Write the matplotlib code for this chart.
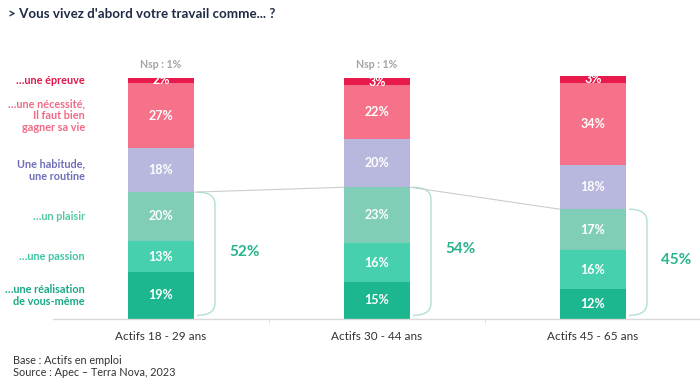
import matplotlib
matplotlib.use("Agg")
import matplotlib.pyplot as plt
from matplotlib.path import Path
from matplotlib.patches import PathPatch

plt.rcParams['font.family'] = ['Lato', 'DejaVu Sans']

groups = ["Actifs 18 - 29 ans", "Actifs 30 - 44 ans", "Actifs 45 - 65 ans"]
categories = ["…une réalisation\nde vous-même", "…une passion", "…un plaisir",
              "Une habitude,\nune routine", "…une nécessité,\nIl faut bien\ngagner sa vie",
              "…une épreuve"]
realisation = [19, 15, 12]
passion = [13, 16, 16]
plaisir = [20, 23, 17]
habitude = [18, 20, 18]
necessite = [27, 22, 34]
epreuve = [2, 3, 3]
positive_total = [52, 54, 45]
nsp_labels = ["Nsp : 1%", "Nsp : 1%", None]

series = [realisation, passion, plaisir, habitude, necessite, epreuve]
bar_colors = ["#1db78f", "#47d0ae", "#80ceb7", "#b8b7de", "#f5728a", "#e8194b"]
label_colors = ["#17a985", "#3ec6a3", "#52c8a6", "#6e6fb7", "#f06b86", "#e0184a"]

fig = plt.figure(figsize=(7, 3.85), dpi=100)
ax = fig.add_axes([53/700, 1-318.5/385, 648/700, 243/385])
ax.set_xlim(-0.5, 2.5)
ax.set_ylim(0, 100)

x = list(range(len(groups)))
w = 0.31
bottoms = [0, 0, 0]
for vals, col in zip(series, bar_colors):
    ax.bar(x, vals, width=w, bottom=bottoms, color=col, edgecolor='none', zorder=2)
    for i, v in enumerate(vals):
        ax.text(x[i], bottoms[i] + v/2, f"{v}%", ha='center', va='center',
                color='white', fontsize=9, fontweight='bold', zorder=3)
    bottoms = [b + v for b, v in zip(bottoms, vals)]

# left category labels aligned to first bar's segments
b = 0
for vals, lab, col in zip(series, categories, label_colors):
    ax.text(-0.352, b + vals[0]/2, lab, ha='right', va='center', color=col,
            fontsize=7.8, fontweight='bold', linespacing=1.1, clip_on=False)
    b += vals[0]

# Nsp labels
for i, t in enumerate(nsp_labels):
    if t:
        ax.text(x[i], 104.7, t, ha='center', va='center', color='#a3a3a3',
                fontsize=7.6, fontweight='bold', clip_on=False)

# connector lines
for i in range(len(groups)-1):
    ax.plot([x[i] + w/2, x[i+1] - w/2], [positive_total[i], positive_total[i+1]],
            color='#cccccc', lw=0.8, zorder=1)

# brackets and totals
for i, tot in enumerate(positive_total):
    x0 = x[i] + 0.167
    x1 = x[i] + 0.25
    top = tot
    bot = 1.3
    r = 5
    verts = [(x0, top), (x1, top), (x1, top - r), (x1, bot + r), (x1, bot), (x0, bot)]
    codes = [Path.MOVETO, Path.CURVE3, Path.CURVE3, Path.LINETO, Path.CURVE3, Path.CURVE3]
    ax.add_patch(PathPatch(Path(verts, codes), facecolor='none', edgecolor='#a9dcd0', lw=0.9))
    ax.text(x[i] + 0.385, tot/2 + 1.5, f"{tot}%", ha='center', va='center',
            color='#27b48e', fontsize=11, fontweight='bold')

for s in ['top', 'right', 'left']:
    ax.spines[s].set_visible(False)
ax.spines['bottom'].set_color('#d9d9d9')
ax.spines['bottom'].set_linewidth(1)
ax.set_yticks([])
ax.set_xticks([0.5, 1.5], minor=True)
ax.tick_params(axis='x', which='minor', length=3, color='#d9d9d9')
ax.set_xticks(x)
ax.set_xticklabels(groups, fontsize=8.5, color='#333333')
ax.tick_params(axis='x', which='major', length=0, pad=9)

fig.text(8/700, 1-14/385, "> Vous vivez d'abord votre travail comme... ?", ha='left', va='center',
         fontsize=9.6, fontweight='bold', color='#1f2a44')
fig.text(13/700, 1-360/385, "Base : Actifs en emploi", ha='left', va='center', fontsize=7.8, color='#333333')
fig.text(13/700, 1-373/385, "Source : Apec – Terra Nova, 2023", ha='left', va='center', fontsize=7.8, color='#333333')

fig.savefig("out.png", dpi=100)
